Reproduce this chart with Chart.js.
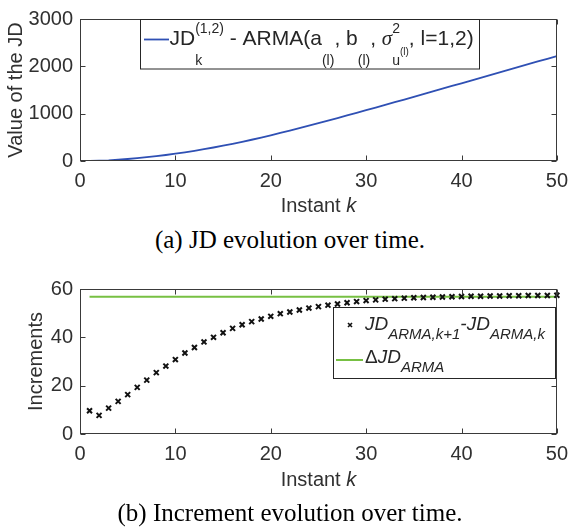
<!DOCTYPE html>
<html>
<head>
<meta charset="utf-8">
<script src="https://cdn.jsdelivr.net/npm/chart.js@4"></script>
<style>
  body { margin: 0; background: #fff; width: 576px; height: 530px; overflow: hidden; position: relative; }
  .box { position: absolute; left: 0; width: 576px; }
  .caption { position: absolute; left: 0; width: 580px; text-align: center;
             font: 25px "Liberation Serif", "Times New Roman", serif; line-height: 30px; color: #000; }
</style>
</head>
<body>
<div class="box" style="top:0;height:225px"><canvas id="jdChart" width="576" height="225"></canvas></div>
<div class="caption" style="top:225px">(a) JD evolution over time.</div>
<div class="box" style="top:270px;height:230px"><canvas id="incChart" width="576" height="230"></canvas></div>
<div class="caption" style="top:498px">(b) Increment evolution over time.</div>
<script>
// --- data ---
const instants = [0,1,2,3,4,5,6,7,8,9,10,11,12,13,14,15,16,17,18,19,20,21,22,23,24,25,
  26,27,28,29,30,31,32,33,34,35,36,37,38,39,40,41,42,43,44,45,46,47,48,49,50];
const jdValues = [0,3,8,15,27,42,60,80,102,127,154,183,215,249,285,323,363,405,449,495,543,
  592,642,694,746,799,853,907,962,1017,1073,1129,1185,1242,1299,1356,1413,1470,1527,1585,
  1642,1699,1757,1814,1872,1930,1987,2045,2103,2160,2218];

const incInstants = [1,2,3,4,5,6,7,8,9,10,11,12,13,14,15,16,17,18,19,20,21,22,23,24,25,
  26,27,28,29,30,31,32,33,34,35,36,37,38,39,40,41,42,43,44,45,46,47,48,49,50];
const increments = [9.6,7.7,10.7,13.5,16.3,19.3,22.3,25.4,28.1,30.8,33.5,35.8,38.1,40.0,41.9,
  43.7,45.2,46.5,47.6,48.7,49.8,50.5,51.3,52.1,52.7,53.3,53.8,54.3,54.8,55.2,55.5,55.8,56.0,
  56.2,56.4,56.5,56.6,56.7,56.8,56.9,57.0,57.0,57.1,57.1,57.2,57.2,57.3,57.3,57.3,57.4];
const deltaJD = 56.8;
const deltaRange = [1, 50];

const jdTicks = [0, 3000, 1000];   // min, max, step
const incTicks = [0, 60, 20];
const xTicks = [0, 50, 10];

const SANS = '"Liberation Sans", Arial, Helvetica, sans-serif';
const axisColor = '#3a3a3a';
const textColor = '#303030';
const blue = '#2f50b4';
const green = '#77c043';

function drawPart(ctx, x, y, p) {
  ctx.font = (p.it ? 'italic ' : '') + p.s + 'px ' + (p.f || SANS);
  ctx.fillText(p.t, x, y + (p.dy || 0));
  return ctx.measureText(p.t).width;
}
function drawRich(ctx, x, y, parts) {
  parts.forEach(p => {
    if (p.stack) {
      let w = 0;
      p.stack.forEach(q => { w = Math.max(w, drawPart(ctx, x, y, q)); });
      x += w;
    } else {
      x += drawPart(ctx, x, y, p);
    }
  });
}

// frame, inward ticks on all sides, axis titles, legend
function makeFrame(cfg) {
  return {
    id: 'frame_' + cfg.name,
    afterDraw(chart) {
      const ctx = chart.ctx;
      const a = chart.chartArea;
      const xs = chart.scales.x, ys = chart.scales.y;
      ctx.save();
      ctx.strokeStyle = axisColor;
      ctx.lineWidth = 1;
      const L = Math.round(a.left) + 0.5, R = Math.round(a.right) - 0.5;
      const T = Math.round(a.top) + 0.5, B = Math.round(a.bottom) - 0.5;
      ctx.strokeRect(L, T, R - L, B - T);
      ctx.beginPath();
      xs.ticks.forEach(t => {
        const px = Math.round(xs.getPixelForValue(t.value)) + 0.5;
        ctx.moveTo(px, B); ctx.lineTo(px, B - 5);
        ctx.moveTo(px, T); ctx.lineTo(px, T + 5);
      });
      ys.ticks.forEach(t => {
        const py = Math.round(ys.getPixelForValue(t.value)) + 0.5;
        ctx.moveTo(L, py); ctx.lineTo(L + 5, py);
        ctx.moveTo(R, py); ctx.lineTo(R - 5, py);
      });
      ctx.stroke();

      // x title: "Instant k"
      ctx.fillStyle = textColor;
      ctx.textBaseline = 'middle';
      ctx.font = '20px ' + SANS;
      const w1 = ctx.measureText('Instant ').width;
      ctx.font = 'italic 20px ' + SANS;
      const w2 = ctx.measureText('k').width;
      let tx = (a.left + a.right) / 2 - (w1 + w2) / 2;
      ctx.textAlign = 'left';
      ctx.font = '20px ' + SANS;
      ctx.fillText('Instant ', tx, cfg.xTitleY);
      ctx.font = 'italic 20px ' + SANS;
      ctx.fillText('k', tx + w1, cfg.xTitleY);

      // y title
      ctx.save();
      ctx.translate(cfg.yTitleX, (a.top + a.bottom) / 2);
      ctx.rotate(-Math.PI / 2);
      ctx.textAlign = 'center';
      ctx.font = '20px ' + SANS;
      ctx.fillText(cfg.yTitle, 0, 0);
      ctx.restore();

      ctx.textBaseline = 'alphabetic';
      ctx.textAlign = 'left';
      cfg.legend(ctx);
      ctx.restore();
    }
  };
}

function baseScales(yt, xAxisHeight) {
  return {
    x: {
      type: 'linear', min: xTicks[0], max: xTicks[1],
      ticks: { stepSize: xTicks[2], color: textColor, font: { family: SANS, size: 20 }, padding: 8,
               callback: v => String(v) },
      grid: { display: false, drawTicks: false }, border: { display: false },
      afterFit: s => { s.height = xAxisHeight; }
    },
    y: {
      min: yt[0], max: yt[1],
      ticks: { stepSize: yt[2], color: textColor, font: { family: SANS, size: 20 }, padding: 7,
               callback: v => String(v) },
      grid: { display: false, drawTicks: false }, border: { display: false },
      afterFit: s => { s.width = 80; }
    }
  };
}

// (a) JD evolution
new Chart(document.getElementById('jdChart'), {
  type: 'scatter',
  data: {
    datasets: [{
      data: instants.map((k, i) => ({ x: k, y: jdValues[i] })),
      showLine: true, borderColor: blue, borderWidth: 1.8, pointRadius: 0, tension: 0
    }]
  },
  options: {
    responsive: false, animation: false,
    layout: { padding: { top: 13.5, right: 10, left: 0, bottom: 0 } },
    plugins: { legend: { display: false }, tooltip: { enabled: false } },
    scales: baseScales(jdTicks, 64)
  },
  plugins: [makeFrame({
    name: 'a', xTitleY: 206.7, yTitleX: 16.7, yTitle: 'Value of the JD',
    legend(ctx) {
      ctx.fillStyle = '#fff';
      ctx.fillRect(140, 19.5, 340, 49.5);
      ctx.strokeStyle = '#262626';
      ctx.strokeRect(140.5, 19.5, 339, 49.5);
      ctx.strokeStyle = blue; ctx.lineWidth = 1.8;
      ctx.beginPath(); ctx.moveTo(144, 39.5); ctx.lineTo(169, 39.5); ctx.stroke();
      ctx.fillStyle = '#262626';
      drawRich(ctx, 169.5, 45, [
        { t: 'JD', s: 21 },
        { stack: [{ t: '(1,2)', s: 14, dy: -12 }, { t: 'k', s: 14, dy: 20 }] },
        { t: ' - ARMA(a', s: 21 },
        { t: '(l)', s: 14, dy: 20 },
        { t: ', b', s: 21 },
        { t: '(l)', s: 14, dy: 20 },
        { t: ', ', s: 21 },
        { t: 'σ', s: 21, it: true, f: '"Liberation Serif", serif' },
        { stack: [{ t: '2', s: 14, dy: -12 }, { t: 'u', s: 14, dy: 20 }] },
        { t: '(l)', s: 10, dy: 10 },
        { t: ', l=1,2)', s: 21 }
      ]);
    }
  })]
});

// (b) Increment evolution
new Chart(document.getElementById('incChart'), {
  type: 'scatter',
  data: {
    datasets: [{
      data: incInstants.map((k, i) => ({ x: k, y: increments[i] })),
      pointStyle: 'crossRot', pointRadius: 3.5, borderColor: '#111', borderWidth: 2,
      clip: false, order: 0
    }, {
      data: deltaRange.map(k => ({ x: k, y: deltaJD })),
      showLine: true, borderColor: green, borderWidth: 2, pointRadius: 0, order: 1
    }]
  },
  options: {
    responsive: false, animation: false,
    layout: { padding: { top: 15, right: 10, left: 0, bottom: 0 } },
    plugins: { legend: { display: false }, tooltip: { enabled: false } },
    scales: baseScales(incTicks, 66)
  },
  plugins: [makeFrame({
    name: 'b', xTitleY: 210, yTitleX: 36, yTitle: 'Increments',
    legend(ctx) {
      ctx.fillStyle = '#fff';
      ctx.fillRect(333, 37.5, 223, 71);
      ctx.strokeStyle = '#262626';
      ctx.strokeRect(333.5, 37.5, 222, 71);
      // marker
      ctx.strokeStyle = '#111'; ctx.lineWidth = 1.6;
      ctx.beginPath();
      ctx.moveTo(348, 53); ctx.lineTo(352, 57);
      ctx.moveTo(352, 53); ctx.lineTo(348, 57);
      ctx.stroke();
      ctx.strokeStyle = green; ctx.lineWidth = 2;
      ctx.beginPath(); ctx.moveTo(336, 90); ctx.lineTo(363, 90); ctx.stroke();
      ctx.fillStyle = '#262626';
      drawRich(ctx, 365, 60, [
        { t: 'JD', s: 19, it: true },
        { t: 'ARMA,k+1', s: 15, it: true, dy: 9 },
        { t: '-JD', s: 19, it: true },
        { t: 'ARMA,k', s: 15, it: true, dy: 9 }
      ]);
      drawRich(ctx, 365, 92.5, [
        { t: 'Δ', s: 19 },
        { t: 'JD', s: 19, it: true },
        { t: 'ARMA', s: 15, it: true, dy: 9 }
      ]);
    }
  })]
});
</script>
</body>
</html>
